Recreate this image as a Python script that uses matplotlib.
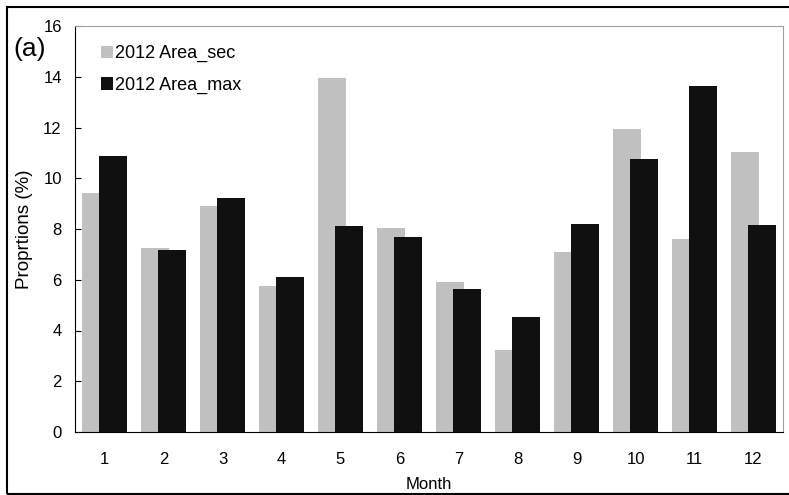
import matplotlib.pyplot as plt
import numpy as np
from matplotlib.patches import Rectangle

plt.rcParams['font.family'] = ['Liberation Sans', 'DejaVu Sans']

months = [1, 2, 3, 4, 5, 6, 7, 8, 9, 10, 11, 12]
area_sec = [9.42, 7.26, 8.92, 5.75, 13.95, 8.05, 5.93, 3.25, 7.10, 11.95, 7.60, 11.05]  # 2012 Area_sec
area_max = [10.87, 7.18, 9.21, 6.12, 8.10, 7.70, 5.62, 4.55, 8.20, 10.75, 13.65, 8.15]  # 2012 Area_max

fig = plt.figure(figsize=(7.89, 4.95), dpi=100)
ax = fig.add_axes([75 / 789, (495 - 432) / 495, (783 - 75) / 789, (432 - 26) / 495])

x = np.array(months)
w = 0.475  # ширина столбца
ax.bar(x - 0.136, area_sec, width=w, color='#c0c0c0', label='2012 Area_sec', zorder=2)
ax.bar(x + 0.136, area_max, width=w, color='#101010', label='2012 Area_max', zorder=3)

ax.set_xlim(0.5, 12.5)
ax.set_ylim(0, 16)
ax.set_yticks(range(0, 17, 2))
ax.set_xticks(months)
ax.tick_params(axis='y', direction='in', length=4, pad=9.5, labelsize=12)
ax.tick_params(axis='x', length=0, pad=14.5, labelsize=12)
ax.spines['top'].set_color('#a0a0a0')
ax.spines['right'].set_color('#a0a0a0')
ax.set_xlabel('Month', fontsize=12, labelpad=7)
ax.set_ylabel('Proprtions (%)', fontsize=13.5, labelpad=7)

ax.legend(loc='upper left', bbox_to_anchor=(0.0367, 0.953), frameon=False, fontsize=13,
          borderpad=0, borderaxespad=0,
          handlelength=0.67, handleheight=0.67, handletextpad=0.12, labelspacing=0.8)

fig.text(13 / 789, 1 - 49 / 495, '(a)', fontsize=19, ha='left', va='center')

# рамка вокруг рисунка
fig.patches.append(Rectangle((7 / 789, 1 / 495), 1.0, 487 / 495, transform=fig.transFigure,
                             fill=False, edgecolor='black', linewidth=1.5))

fig.savefig('out.png', dpi=100)
